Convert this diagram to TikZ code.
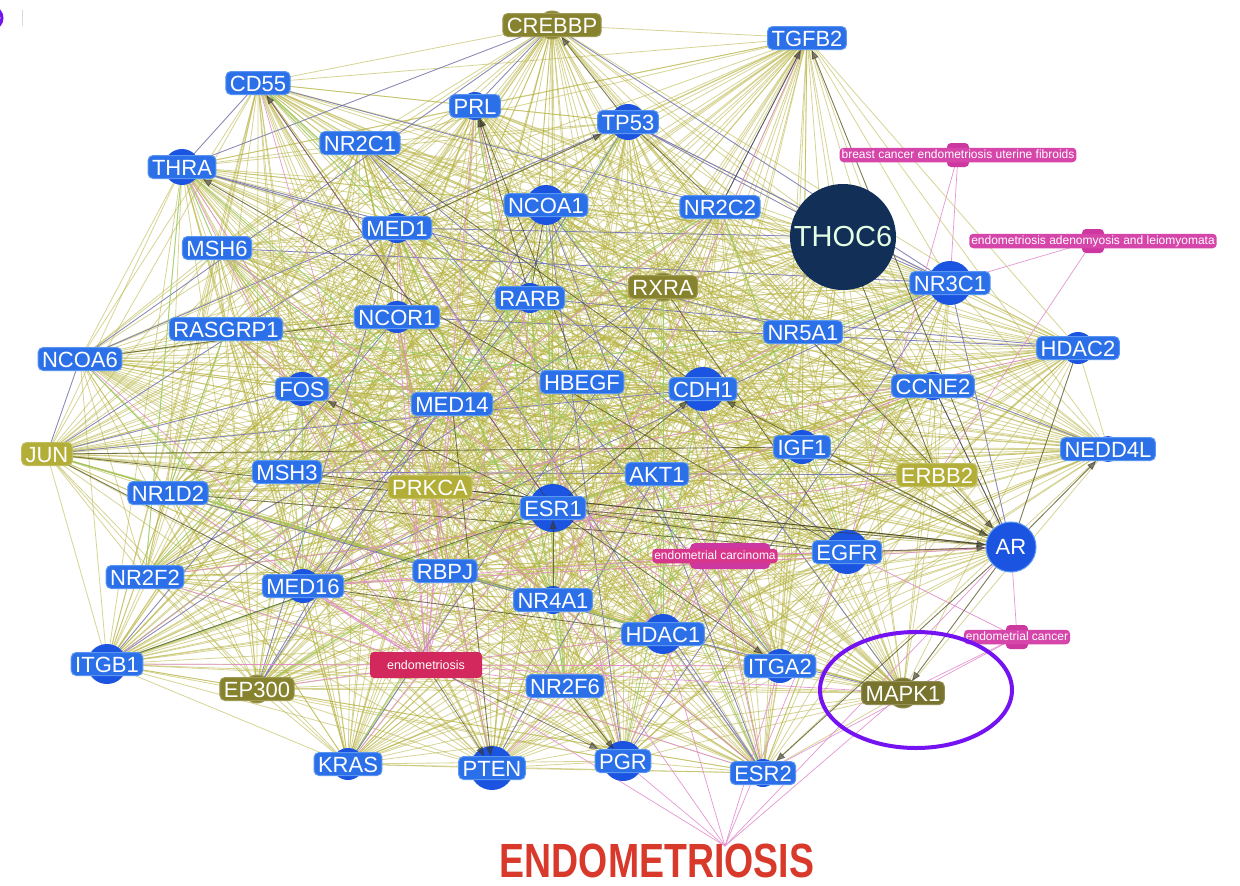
\documentclass[tikz,border=0pt]{standalone}
\usepackage{fontspec}
\setmainfont{Liberation Sans}
\usepackage{graphicx}
\usetikzlibrary{arrows.meta}
\definecolor{geneblue}{RGB}{43,112,232}
\definecolor{generim}{RGB}{90,150,240}
\definecolor{circblue}{RGB}{28,84,226}
\definecolor{oliveA}{RGB}{135,130,45}
\definecolor{oliveB}{RGB}{178,174,56}
\definecolor{oliveD}{RGB}{120,116,45}
\definecolor{thocblue}{RGB}{18,48,87}
\definecolor{dpink}{RGB}{214,70,170}
\definecolor{dpinkdark}{RGB}{205,55,160}
\definecolor{carcpink}{RGB}{216,54,140}
\definecolor{endored}{RGB}{211,40,94}
\definecolor{titlered}{RGB}{216,57,43}
\definecolor{ringpurple}{RGB}{116,18,242}
\definecolor{eolive}{RGB}{182,178,62}
\definecolor{egreen}{RGB}{140,212,105}
\definecolor{eblue}{RGB}{100,100,220}
\definecolor{epink}{RGB}{226,140,206}
\definecolor{edark}{RGB}{55,55,45}
\pgfdeclarelayer{bg}\pgfdeclarelayer{edges}\pgfdeclarelayer{circles}\pgfdeclarelayer{arrows}
\pgfsetlayers{bg,edges,circles,arrows,main}
\newcommand\genefont{\fontsize{22}{22}\selectfont}
\newcommand\disfont{\fontsize{12}{12}\selectfont}
\begin{document}
\begin{tikzpicture}[x=1pt,y=-1pt,
  gene/.style={rounded corners=5pt, fill=geneblue, draw=generim, line width=1pt, text=white, font=\genefont, inner xsep=4pt, inner ysep=3.5pt, text height=16pt, text depth=0pt},
  genec/.style={circle, fill=circblue, draw=generim, line width=1pt, text=white, font=\genefont, minimum size=50pt, inner sep=0pt},
  oliveA/.style={gene, fill=oliveA, draw=oliveA!80!white},
  oliveB/.style={gene, fill=oliveB, draw=oliveB!80!white},
  oliveD/.style={gene, fill=oliveD, draw=oliveD!80!white},
  thoc/.style={circle, fill=thocblue, minimum size=106pt, inner sep=0pt, text=white!90!green, font=\fontsize{29}{29}\selectfont},
  dis/.style={rounded corners=4pt, fill=dpink, text=white, font=\disfont, inner xsep=2pt, inner ysep=1.5pt, text height=9pt, text depth=2.5pt},
  endo/.style={rounded corners=4pt, fill=endored, text=white, font=\fontsize{12.5}{12.5}\selectfont, minimum width=112pt, minimum height=26pt, inner sep=0pt},
  titletext/.style={text=titlered, font=\bfseries\fontsize{48}{48}\selectfont, inner sep=0pt},
  e/.style={line width=0.8pt, draw=eolive, opacity=0.55},
  eb/.style={line width=0.7pt, draw=eblue, opacity=0.75},
  eg/.style={line width=0.7pt, draw=egreen, opacity=0.85},
  ep/.style={line width=0.7pt, draw=epink, opacity=0.9},
  ed/.style={line width=0.8pt, draw=edark, opacity=0.6},
  ea/.style={ed, -{Triangle[length=9pt,width=7pt]}},
  ring/.style={draw=ringpurple, line width=4pt}
]
\begin{pgfonlayer}{bg}
\fill[white] (0,0) rectangle (1240,886);
\end{pgfonlayer}
\useasboundingbox (0,0) rectangle (1240,886);

% ---------- nodes ----------
\node[gene] (CD55) at (258,83) {CD55};
\node[oliveA] (CREBBP) at (552,25) {CREBBP};
\node[gene] (TGFB2) at (807,38) {TGFB2};
\node[gene] (PRL) at (475,106) {PRL};
\node[gene] (TP53) at (628,122) {TP53};
\node[gene] (NR2C1) at (360,143) {NR2C1};
\node[gene] (THRA) at (182,167) {THRA};
\node[gene] (NCOA1) at (546,205) {NCOA1};
\node[gene] (NR2C2) at (720,207) {NR2C2};
\node[gene] (MED1) at (397,228) {MED1};
\node[thoc] (THOC6) at (843,237) {THOC6};
\node[gene] (MSH6) at (217,248) {MSH6};
\node[oliveA] (RXRA) at (663,287) {RXRA};
\node[gene] (RARB) at (530,298) {RARB};
\node[gene] (NR3C1) at (950,283) {NR3C1};
\node[gene] (NCOR1) at (397,317) {NCOR1};
\node[gene] (RASGRP1) at (226,329) {RASGRP1};
\node[gene] (NR5A1) at (803,332) {NR5A1};
\node[gene] (HDAC2) at (1078,348) {HDAC2};
\node[gene] (NCOA6) at (80,359) {NCOA6};
\node[gene] (FOS) at (302,389) {FOS};
\node[gene] (HBEGF) at (582,382) {HBEGF};
\node[gene] (CDH1) at (703,389) {CDH1};
\node[gene] (CCNE2) at (933,386) {CCNE2};
\node[gene] (MED14) at (452,404) {MED14};
\node[oliveB] (JUN) at (47,454) {JUN};
\node[gene] (IGF1) at (802,447) {IGF1};
\node[gene] (NEDD4L) at (1108,449) {NEDD4L};
\node[oliveB] (ERBB2) at (937,475) {ERBB2};
\node[gene] (MSH3) at (287,472) {MSH3};
\node[oliveB] (PRKCA) at (430,487) {PRKCA};
\node[gene] (AKT1) at (657,474) {AKT1};
\node[gene] (NR1D2) at (168,493) {NR1D2};
\node[gene] (ESR1) at (553,508) {ESR1};
\node[genec] (AR) at (1011,547) {AR};
\node[gene] (EGFR) at (847,552) {EGFR};
\node[gene] (NR2F2) at (145,577) {NR2F2};
\node[gene] (RBPJ) at (445,571) {RBPJ};
\node[gene] (MED16) at (303,586) {MED16};
\node[gene] (NR4A1) at (553,600) {NR4A1};
\node[gene] (HDAC1) at (663,634) {HDAC1};
\node[gene] (ITGB1) at (107,664) {ITGB1};
\node[oliveA] (EP300) at (257,689) {EP300};
\node[gene] (ITGA2) at (780,666) {ITGA2};
\node[gene] (NR2F6) at (565,686) {NR2F6};
\node[oliveD] (MAPK1) at (903,693) {MAPK1};
\node[gene] (KRAS) at (348,764) {KRAS};
\node[gene] (PTEN) at (492,768) {PTEN};
\node[gene] (PGR) at (623,761) {PGR};
\node[gene] (ESR2) at (763,773) {ESR2};

\node[dis] (bc) at (958,155) {breast cancer endometriosis uterine fibroids};
\node[dis] (adeno) at (1093,241) {endometriosis adenomyosis and leiomyomata};
\node[dis] (ecancer) at (1017,637) {endometrial cancer};
\node[dis, fill=carcpink] (ecarc) at (715,556) {endometrial carcinoma};
\node[endo] (endo) at (426,665) {endometriosis};
\node[titletext] (title) at (657,861) {\scalebox{0.78}[1]{ENDOMETRIOSIS}};
\coordinate (tp) at (725,846);

% ---------- circles behind labels ----------
\begin{pgfonlayer}{circles}
\foreach \n/\r/\c in {CREBBP/14/oliveA, TGFB2/12/circblue, CD55/12/circblue, PRL/14/circblue,
  TP53/18/circblue, NR2C1/10/circblue, THRA/18/circblue, NCOA1/20/circblue, NR2C2/10/circblue,
  MED1/15/circblue, MSH6/10/circblue, RXRA/14/oliveA, RARB/15/circblue, NR3C1/22/circblue,
  NCOR1/16/circblue, RASGRP1/10/circblue, NR5A1/12/circblue, HDAC2/16/circblue, NCOA6/10/circblue,
  FOS/17/circblue, HBEGF/10/circblue, CDH1/22/circblue, CCNE2/14/circblue, MED14/10/circblue,
  JUN/10/oliveB, IGF1/17/circblue, NEDD4L/13/circblue, ERBB2/8/oliveB, MSH3/10/circblue,
  PRKCA/8/oliveB, AKT1/12/circblue, NR1D2/10/circblue, ESR1/24/circblue, EGFR/22/circblue,
  NR2F2/10/circblue, RBPJ/12/circblue, MED16/17/circblue, NR4A1/14/circblue, HDAC1/20/circblue,
  ITGB1/20/circblue, EP300/14/oliveA, ITGA2/17/circblue, NR2F6/10/circblue, MAPK1/15/oliveD,
  KRAS/16/circblue, PTEN/22/circblue, PGR/20/circblue, ESR2/14/circblue}
  \fill[\c] (\n.center) circle[radius=\r];
\foreach \n in {bc, adeno, ecancer}
  \fill[dpinkdark, rounded corners=4pt] ([xshift=-11pt,yshift=-12pt]\n.center) rectangle ([xshift=11pt,yshift=12pt]\n.center);
\fill[dpinkdark, rounded corners=5pt] ([xshift=-25pt,yshift=-13pt]ecarc.center) rectangle ([xshift=55pt,yshift=13pt]ecarc.center);
\end{pgfonlayer}

% ---------- edges ----------
\def\allnodes{CREBBP,TGFB2,CD55,PRL,TP53,NR2C1,THRA,NCOA1,NR2C2,MED1,THOC6,MSH6,RXRA,RARB,NR3C1,NCOR1,RASGRP1,NR5A1,HDAC2,NCOA6,FOS,HBEGF,CDH1,CCNE2,MED14,JUN,IGF1,NEDD4L,ERBB2,MSH3,PRKCA,AKT1,NR1D2,ESR1,AR,EGFR,NR2F2,RBPJ,MED16,NR4A1,HDAC1,ITGB1,EP300,ITGA2,NR2F6,MAPK1,KRAS,PTEN,PGR,ESR2}
\begin{pgfonlayer}{edges}
\foreach \a [count=\i] in \allnodes {
  \foreach \b [count=\j] in \allnodes {
    \ifnum\j>\i \draw[e] (\a.center) -- (\b.center); \fi
  }
}
\foreach \a/\b in {THRA/CREBBP, THRA/MED1, THRA/NR5A1, NCOA6/TP53, JUN/FOS, JUN/MED1, JUN/CDH1,
  NR1D2/HDAC1, ITGB1/NCOR1, ITGB1/RXRA, EP300/NCOA1, EP300/MED1, EP300/TP53, MED16/NR3C1,
  MED16/RARB, KRAS/NR2C2, PTEN/AKT1, PGR/NCOA1, PGR/NR3C1, ESR2/NCOA1, ESR2/MED1, ESR2/HDAC1,
  AR/NR3C1, AR/CCNE2, EGFR/NR2C1, NR3C1/TP53, NR3C1/CREBBP, HDAC2/NCOR1, HDAC2/RARB,
  NEDD4L/NR5A1, TGFB2/NR2C2, CREBBP/NCOA6, CREBBP/PRL, CD55/NR2C2, MSH6/NR3C1, MSH3/ERBB2,
  RBPJ/NR4A1, NR2F2/MED14, MAPK1/NCOA1, MAPK1/HDAC1, ITGA2/NR2C1, THOC6/NR3C1, THOC6/TP53,
  THOC6/MED1, CD55/THRA, JUN/NCOA6}
  \draw[eb] (\a.center) -- (\b.center);
\foreach \a/\b in {THRA/MSH6, THRA/MED14, CD55/MED1, CD55/HBEGF, MSH6/PRKCA, NCOA6/MED16,
  JUN/HDAC1, NR2F2/NCOR1, ITGB1/MED14, EP300/RBPJ, KRAS/HBEGF, MED16/FOS, NR1D2/RASGRP1,
  RASGRP1/CDH1, NCOR1/AKT1, MED1/NR4A1, NCOA1/ESR1, NCOA1/CDH1, NR2C2/EGFR, RXRA/HDAC1,
  RARB/ITGA2, TP53/MED14, PRL/NR2F6, FOS/NR5A1, HBEGF/ESR2, CDH1/PGR, IGF1/NR2F6, AKT1/ITGB1,
  MSH3/NR2C2, PRKCA/NR3C1, NR4A1/CCNE2, NR2F6/RARB, THRA/NR2F2, MSH6/ESR1}
  \draw[eg] (\a.center) -- (\b.center);
\foreach \a/\b in {THRA/RBPJ, CD55/ESR1, PRL/PGR, MED1/HDAC1, NCOR1/PTEN, MED16/AR, NR2F2/ERBB2,
  MSH6/ITGA2, RASGRP1/ESR2, HDAC2/PRKCA, NR5A1/MED16, CCNE2/RBPJ, TGFB2/NR4A1, NR2C2/ITGB1,
  bc/NR3C1, bc/EGFR, adeno/NR3C1, adeno/ERBB2, ecancer/AR, ecancer/MAPK1, ecancer/ESR2,
  ecancer/EGFR, ecarc/ESR1, ecarc/AKT1, ecarc/PTEN, ecarc/EGFR, ecarc/AR, ecarc/HDAC1,
  ecarc/PGR, ecarc/ESR2, ecarc/CDH1, ecarc/MED16, ecarc/ITGA2,
  endo/ITGB1, endo/MED16, endo/NR2F2, endo/RBPJ, endo/ESR1, endo/NR4A1, endo/ITGA2, endo/KRAS,
  endo/EP300, endo/FOS, endo/NCOR1, endo/MED1, endo/THRA, endo/CD55, endo/PRL, endo/HDAC1,
  endo/NR2F6, endo/PRKCA, endo/MSH3, endo/RARB, endo/ESR2, endo/AKT1, endo/MAPK1, endo/NR1D2,
  endo/MED14, endo/NCOA6,
  tp/MED16, tp/HDAC1, tp/ITGA2, tp/NR4A1, tp/EGFR, tp/AR, tp/MAPK1, tp/PGR}
  \draw[ep] (\a.center) -- (\b.center);
\foreach \a/\b in {JUN/IGF1, JUN/MED16, JUN/ESR1, NCOA6/NCOR1, ITGB1/ESR1, NR1D2/EGFR,
  ESR1/EGFR, MSH3/AR, PRKCA/AR, NCOA1/RARB, RXRA/EGFR, NR2C1/CDH1, MED16/HDAC1,
  CCNE2/AR, HDAC2/AR, TP53/NR2C2, THOC6/ERBB2}
  \draw[ed] (\a.center) -- (\b.center);
\end{pgfonlayer}

\begin{pgfonlayer}{arrows}
\foreach \a/\b in {TP53/CREBBP, NR2C2/TGFB2, AR/TGFB2, RARB/PRL, HBEGF/PRL, MED1/TP53,
  ESR1/CD55, EGFR/THRA, IGF1/AR, NR5A1/AR, ESR1/AR, EGFR/AR, AR/NEDD4L, AR/MAPK1, AR/ESR2,
  ESR1/ITGA2, MED14/PTEN, endo/PTEN, endo/PGR, NR2F6/PGR, NR4A1/ESR1, AR/CDH1, ESR1/CDH1,
  ESR1/FOS}
  \draw[ea] (\a) -- (\b);
\end{pgfonlayer}

% ---------- highlight ring and corner mark ----------
\draw[ring] (916,690) ellipse[x radius=96, y radius=58];
\draw[ringpurple, line width=3pt] (-9,18) circle[radius=11];
\draw[black!15, line width=1pt] (22,10) -- (22,26);
\end{tikzpicture}
\end{document}
